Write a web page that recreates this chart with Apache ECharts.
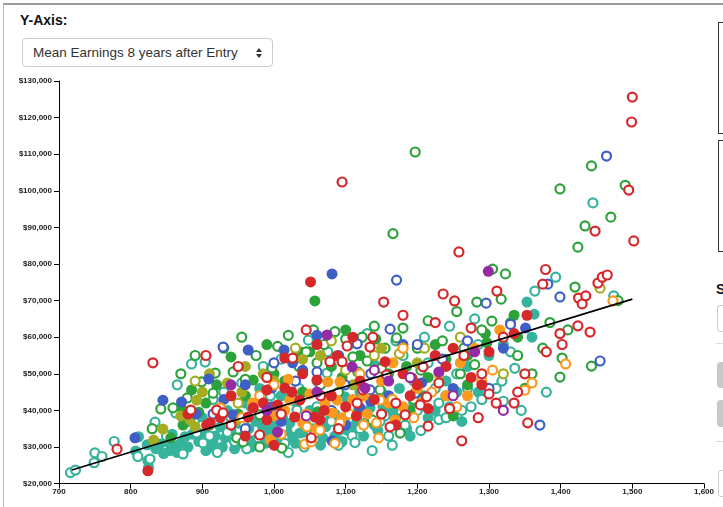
<!DOCTYPE html>
<html>
<head>
<meta charset="utf-8">
<script src="https://cdn.jsdelivr.net/npm/echarts@6/dist/echarts.min.js"></script>
<style>
    body { margin: 0; width: 723px; height: 507px; overflow: hidden; background: #fff; font-family: "Liberation Sans", Arial, sans-serif; position: relative; }
    .frame { position: absolute; left: 3px; top: 3px; width: 730px; height: 520px; border-top: 2px solid #9a9a9a; border-left: 1px solid #bbb; }
    .lbl { position: absolute; left: 20px; top: 12px; font-size: 14px; font-weight: bold; color: #111; }
    .sel { position: absolute; left: 22px; top: 38px; width: 251px; height: 29px; border: 1px solid #ccc; border-radius: 4px; box-sizing: border-box; font-size: 13.5px; color: #333; line-height: 28px; padding-left: 10px; }
    .arr { position: absolute; left: 256px; width: 0; height: 0; border-left: 3px solid transparent; border-right: 3px solid transparent; }
    .box { position: absolute; left: 718px; width: 20px; border: 1px solid #333; }
    .btn { position: absolute; left: 717px; width: 20px; background: #c8c8c8; border-radius: 4px; }
    .hr { position: absolute; left: 716px; width: 10px; height: 1px; background: #ddd; }
    #myChart { position: absolute; left: 0; top: 0; width: 723px; height: 507px; }
</style>
</head>
<body>
<div class="frame"></div>
<div class="lbl">Y-Axis:</div>
<div class="sel">Mean Earnings 8 years after Entry</div>
<div class="arr" style="top:48px;border-bottom:4px solid #333"></div>
<div class="arr" style="top:54px;border-top:4px solid #333"></div>
<div class="box" style="top:22px;height:110px"></div>
<div class="box" style="top:140px;height:110px"></div>
<div style="position:absolute;left:716px;top:281px;font-size:14px;font-weight:bold;color:#111">S</div>
<div style="position:absolute;left:717px;top:305px;width:20px;height:25px;border:1px solid #ccc;border-radius:3px"></div>
<div class="hr" style="top:343px"></div>
<div class="btn" style="top:362px;height:26px"></div>
<div class="btn" style="top:400px;height:27px"></div>
<div class="hr" style="top:441px"></div>
<div style="position:absolute;left:718px;top:470px;width:20px;height:25px;border:1px solid #ccc;border-radius:3px"></div>
<div id="myChart"></div>
<script>
    // y values are in thousands of dollars
    var xTicks = [700, 800, 900, 1000, 1100, 1200, 1300, 1400, 1500, 1600];
    var yTicks = [20, 30, 40, 50, 60, 70, 80, 90, 100, 110, 120, 130];

    var tealFill = [[807,28.9],[811,32.8],[823,30.6],[825,24.5],[824,26.3],[835,29.5],[841,30.8],[846,28.2],[850,31.5],[855,29],[860,30.2],[865,28.5],[870,31],[858,33.5],[876,32.8],[880,30],[886,33.5],[895,31.5],[902,34],[911,30],[918,33],[925,35.5],[932,32.5],[940,34.5],[950,36.5],[957,33],[965,35],[972,31.8],[984,35.5],[990,33],[1000,36],[1012,38],[1026,32.7],[1030,31],[1036,33.8],[1045,36],[1068,32.5],[1078,37.4],[1092,34.6],[1099,43.7],[1102,34.6],[1116,37.4],[1134,40.7],[1141,52.4],[1152,41],[1157,39.3],[1166,40.1],[1190,33],[1195,42],[1210,44],[1225,40],[1240,48],[1255,45],[1270,52],[1300,55],[1320,58],[1353,69.6],[1363,66.3],[1360,60],[1010,44],[960,42],[935,40],[900,38],[880,37],[1050,40],[1085,39],[1120,45],[1140,36],[1175,46],[1060,48],[980,46],[1030,42.5],
        [905,29],[915,31],[928,30],[945,29.5],[952,31],[968,30],[975,37],[988,31],[995,34.5],[1005,33],[1018,34.5],[1022,36.5],[1040,34],[1055,35],[1065,30.5],[1072,35.5],[1085,33],[1095,31.5],[1108,35.5],[1125,33],[1130,37],[1145,34.5],[1170,38],[1185,35],[1215,38],[1245,41],[1285,45],[1262,37]];
    var tealRing = [[716,23],[723,23.7],[749,25.7],[750,28.4],[760,27.4],[777,31.5],[810,27.4],[827,26.7],[834,36.8],[863,39.3],[873,28.1],[885,52.7],[904,53.2],[901,31.1],[892,33.8],[921,28.5],[945,31.5],[962,29.5],[978,32.5],[1003,30.5],[1020,28.5],[1032,40.1],[1012,35.2],[1057,33.8],[1074,50.2],[1048,59.2],[1090,30.5],[1109,33.1],[1113,31.2],[1137,29],[1160,33],[1183,36],[1205,34.5],[1230,37.5],[1262,40],[1290,43],[1318,48],[1336,51.5],[1364,72.6],[1393,76.4],[1445,96.7],[1474,71.3],[930,45],[955,47.5],[985,52],[1010,54],[1075,56],[1105,58],[1130,61],[1170,59],[1210,60],[1245,63],[1285,58],[940,38],[968,41],[995,44],[1035,46],[1060,41],[1125,42],[1150,45],[1195,48],[1225,46],[1255,50],[865,47],[915,43],[850,33],[900,36],[1000,40],[1080,37],[1120,35],[1155,38.5],[1230,42],[1270,46],[1330,56],[1215,53],[1180,55],[1280,65],[1380,45],[1345,40],[1320,42.5],
        [910,33],[935,34],[958,36],[1015,31],[1042,30],[1063,38.5],[1098,37.5],[1118,40],[1148,37],[1165,30.5],[1200,40],[1240,38],[1275,41],[1310,46]];
    var greenFill = [[856,32.5],[873,36],[885,45.6],[940,54.6],[971,48.3],[1036,56],[1050,56],[1057,69.9],[1061,39.6],[1142,59.5],[920,47],[905,42],[895,39.5],[960,44],[1000,50],[1015,48],[1040,45],[1080,52],[1095,49],[1120,55],[1160,50],[1185,52],[1200,45],[1215,49],[1240,54],[1270,55],[1297,58.5],[1295,61],[1330,64],[1335,66],[1190,40],[1250,38.5],[1100,62],[870,41],[990,58],[1225,58],[1340,60],[950,39],[1270,47]];
    var greenRing = [[842,40.4],[859,40.7],[879,43.4],[899,47.8],[918,50.2],[943,50.5],[915,44.7],[980,38.8],[1060,53],[1100,59.5],[1123,60],[1110,54.6],[1117,50.5],[1148,45.6],[1171,59.8],[1137,37.4],[1176,33.8],[980,30],[1011,29.7],[948,32.5],[957,31.4],[997,51.6],[1166,88.3],[1197,110.6],[1305,78.6],[1323,77.3],[1283,69.6],[1317,70.4],[1304,64.4],[1420,73.7],[1399,100.5],[1443,106.8],[1490,101.5],[1470,92.8],[1434,90.4],[1424,84.6],[1402,54.3],[1443,52.1],[1399,49.1],[1480,70],[870,50],[930,57],[955,60],[975,55],[1005,57.5],[1020,60.5],[1035,52],[1055,62],[1070,58],[1085,61.5],[1090,45],[1140,63],[1155,57],[1180,62.5],[1200,57],[1215,64.5],[1235,59],[1255,67],[1265,57],[1290,62],[1340,55],[1360,50],[1375,57],[1385,64],[1410,62],[1205,51],[1240,44],[1350,46],[830,35],[890,55],[910,36],[1025,44],[1065,47],[1130,53.5],[1195,43],[1280,52.5],
        [960,48.5],[1045,56],[1150,51.5],[1260,50]];
    var oliveFill = [[832,31.9],[845,34.9],[883,37.4],[890,35.5],[892,42.8],[955,45],[900,45],[920,40],[935,47.5],[870,38.5],[960,52],[985,50],[1000,48],[1040,54],[1065,55],[1110,47],[1150,57],[1200,53],[910,50],[945,37]];
    var oliveRing = [[1455,73.4],[1175,55.5],[1210,57],[1030,57],[1100,51],[950,42],[890,48],[1260,60],[1320,50],[1080,59],[1140,55]];
    var blueFill = [[806,32.5],[845,42.8],[871,42.3],[891,39],[909,48.6],[964,56.5],[1014,56.5],[1081,77.3],[943,38.8],[997,41],[997,46.1],[1026,53],[1081,31.7],[1120,40.7],[1206,47.5],[1351,62.5],[1320,57],[960,47],[1040,51],[1160,44],[1250,46],[1100,36],[930,43],[1060,60.5],[1180,58],[1010,37],[1135,42.5]];
    var blueRing = [[929,57.3],[1099,47],[1116,58.2],[1134,45.6],[1135,50],[1162,62.2],[1171,75.6],[1197,44.7],[1296,69.3],[1371,36],[1382,74.5],[1399,71],[1455,53.5],[1464,109.5],[960,35],[1030,48],[1060,50.5],[1090,55],[1200,58],[1235,54],[1270,59],[1300,46],[1330,63.5],[1080,40],[1000,53],[915,39]];
    var orangeFill = [[1075,47.8],[1088,42.8],[1022,42.8],[1071,42],[1082,39.3],[1092,47.8],[1166,53],[1169,37.4],[1060,35],[1000,38.5],[1130,39],[1050,44.5],[970,42],[1110,43],[1200,46],[1230,50],[1260,53],[1280,57],[1150,48],[1240,44],[1040,36.5],[995,32],[1180,41],[1020,48.5],[1315,62],
        [1015,40],[1045,39],[1095,38],[1125,44],[1160,42],[1205,42],[1270,44]];
    var orangeRing = [[925,40.7],[1046,35.5],[1043,30.8],[1052,31.4],[1064,34.6],[1092,36.6],[1125,36],[1143,36.6],[1146,32.5],[1148,42.8],[1407,52.7],[1473,69.9],[1350,45.5],[1360,47.5],[955,38],[980,44],[1010,33.5],[1105,39],[1165,43],[1195,38],[1220,45],[1255,41],[1290,48],[1305,51],[1000,47],[1120,50],[1085,31],[1180,57]];
    var redFill = [[824,23.5],[1051,75.1],[906,36],[911,36.6],[964,38.2],[971,40.7],[990,37.4],[990,45.6],[1015,46.1],[1029,38.2],[1036,42.8],[1057,38.2],[1060,48.3],[1064,37.4],[1088,54.9],[1155,53.3],[1015,54.3],[1353,66],[1240,52],[1275,49],[1300,56],[1200,47],[1180,50],[1120,48],[1100,41],[940,44],[960,33],[1000,30.5],[1040,50],[1080,44],[1140,43],[1225,55],[1110,60],[1250,57],[1335,61],[880,39],[1005,41.5],[1170,36],[1060,58],
        [925,38],[985,42],[1025,45],[1070,40],[1115,38.5],[1190,44],[1215,40.5],[1290,47]];
    var redRing = [[781,29.4],[831,53],[884,40.1],[920,40.1],[929,39.3],[980,33.3],[1026,54.3],[1052,32.5],[1078,53.3],[1095,53.3],[1102,57.6],[1116,42],[1124,45.6],[1134,57.3],[1138,60],[1153,69.6],[1095,102.4],[1157,49.7],[1162,35.5],[1183,38.8],[1192,48.9],[1204,41.5],[1208,51.9],[1213,43.7],[1215,35.7],[1236,71.8],[1252,69.9],[1258,83.3],[1262,31.7],[1311,72.6],[1354,36.6],[1375,74.5],[1379,78.5],[1399,61],[1402,58],[1424,63.1],[1425,70.7],[1430,69.1],[1435,71.3],[1441,61.4],[1448,89],[1452,74.8],[1458,76.4],[1495,100.2],[1500,125.6],[1499,118.8],[1502,86.3],[1465,77],[950,52],[990,49],[1045,62],[1065,44],[1090,35],[1230,47.5],[1265,55],[1290,50],[1320,60],[1340,45],[1380,56],[1300,44.5],[1180,66],[1225,64],[1275,62.5],[905,55],[940,36],[1010,39],[1150,39],[1350,50],[1335,42],
        [1170,42],[1245,40.5],[1285,38],[1310,42]];
    var purpleFill = [[1074,60.6],[1109,51.9],[1127,46.1],[1005,34.1],[1299,78],[1230,50.5],[990,40],[1060,45],[1280,56],[1160,48],[940,47]];
    var purpleRing = [[1320,40],[1250,44],[1140,51],[1045,38.5],[1190,49]];
    var trendLine = [[718,23.7],[1500,70.4]];

    var colors = {
        teal: '#36b39c',
        green: '#2ca23b',
        olive: '#a4ad22',
        blue: '#3f5ec6',
        orange: '#fa9a1e',
        red: '#d6282b',
        purple: '#962aa5'
    };

    function fill(data, c) {
        return { type: 'scatter', data: data, symbolSize: 11, silent: true, animation: false,
                 itemStyle: { color: c, opacity: 1 } };
    }
    function ring(data, c) {
        return { type: 'scatter', data: data, symbolSize: 9, silent: true, animation: false,
                 itemStyle: { color: '#fff', borderColor: c, borderWidth: 2.2, opacity: 1 } };
    }

    var myChart = echarts.init(document.getElementById('myChart'));

    var axisFont = { fontSize: 8, fontWeight: 'bold', color: '#222', fontFamily: 'Liberation Sans' };

    var option = {
        animation: false,
        grid: { left: 59, right: 19, top: 81, bottom: 23.4 },
        xAxis: {
            type: 'value', min: 700, max: 1600, interval: 100,
            splitLine: { show: false },
            axisLine: { onZero: false, lineStyle: { color: '#000', width: 1 } },
            axisTick: { length: 5, lineStyle: { color: '#000' } },
            axisLabel: Object.assign({ margin: 4, formatter: function (v) { return v.toLocaleString('en-US'); } }, axisFont)
        },
        yAxis: {
            type: 'value', min: 20, max: 130, interval: 10,
            splitLine: { show: false },
            axisLine: { show: true, onZero: false, lineStyle: { color: '#000', width: 1 } },
            axisTick: { show: true, length: 5, lineStyle: { color: '#000' } },
            axisLabel: Object.assign({ margin: 7, formatter: function (v) { return '$' + v + ',000'; } }, axisFont)
        },
        series: [
            fill(tealFill, colors.teal),
            ring(tealRing, colors.teal),
            fill(greenFill, colors.green),
            ring(greenRing, colors.green),
            fill(oliveFill, colors.olive),
            ring(oliveRing, colors.olive),
            fill(blueFill, colors.blue),
            ring(blueRing, colors.blue),
            fill(orangeFill, colors.orange),
            ring(orangeRing, colors.orange),
            fill(redFill, colors.red),
            ring(redRing, colors.red),
            fill(purpleFill, colors.purple),
            ring(purpleRing, colors.purple),
            {
                type: 'line', data: trendLine, symbol: 'none', silent: true, z: 10,
                lineStyle: { color: '#000', width: 1.6 }
            }
        ]
    };
    myChart.setOption(option);
</script>
</body>
</html>
